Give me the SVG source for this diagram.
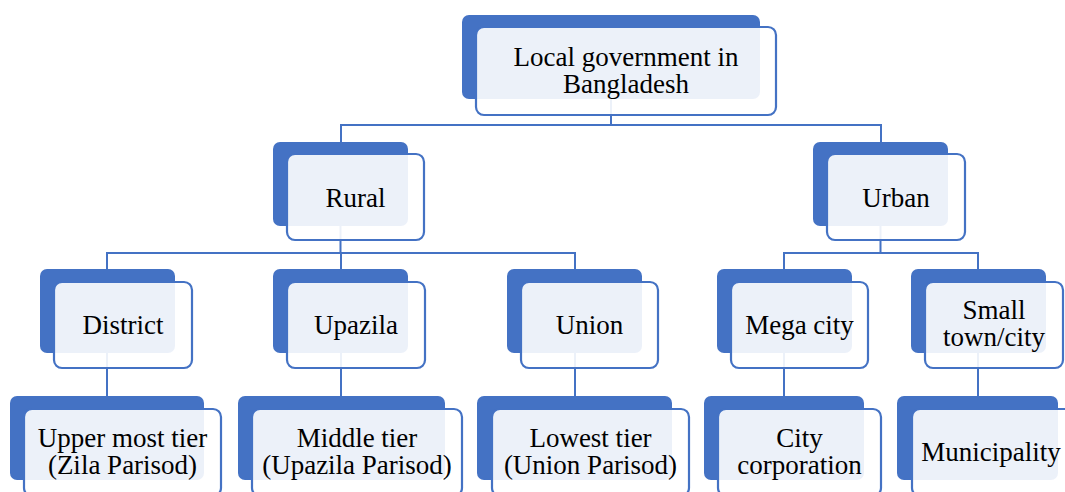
<svg xmlns="http://www.w3.org/2000/svg" width="1065" height="492" viewBox="0 0 1065 492">
<style>
.back{fill:#4472C4}
.front{fill:#ffffff;fill-opacity:0.9;stroke:#4472C4;stroke-width:2.2}
.con{fill:none;stroke:#4472C4;stroke-width:2}
</style>
<rect width="1065" height="492" fill="#ffffff"/>
<g id="connectors">
<path class="con" d="M611,99 V125 M341,142 V125 H881 V142"/>
<path class="con" d="M340.5,226 V253 M107,269 V253 H575 V269 M341,253 V269"/>
<path class="con" d="M880.5,226 V253 M784,269 V253 H978 V269"/>
<path class="con" d="M107,353 V396 M341,353 V396 M575,353 V396 M784,353 V396 M978,353 V396"/>
</g>
<g font-family="Liberation Serif, Times New Roman, serif" font-size="27" fill="#000000" text-anchor="middle">
<g id="root">
<rect class="back" x="462" y="15" width="298" height="84" rx="7"/>
<rect class="front" x="476" y="27" width="300" height="88" rx="8"/>
<text x="626" y="66" font-family="Liberation Serif">Local government in</text>
<text x="626" y="93" font-family="Liberation Serif">Bangladesh</text>
</g>
<g id="rural">
<rect class="back" x="273" y="142" width="135" height="84" rx="7"/>
<rect class="front" x="287" y="154" width="137" height="86" rx="8"/>
<text x="355.5" y="207" font-family="Liberation Serif">Rural</text>
</g>
<g id="urban">
<rect class="back" x="813" y="142" width="135" height="84" rx="7"/>
<rect class="front" x="827" y="154" width="138" height="86" rx="8"/>
<text x="896" y="207" font-family="Liberation Serif">Urban</text>
</g>
<g id="district">
<rect class="back" x="40" y="269" width="135" height="84" rx="7"/>
<rect class="front" x="54" y="282" width="138" height="86" rx="8"/>
<text x="123" y="334" font-family="Liberation Serif">District</text>
</g>
<g id="upazila">
<rect class="back" x="273" y="269" width="135" height="84" rx="7"/>
<rect class="front" x="287" y="282" width="138" height="86" rx="8"/>
<text x="356" y="334" font-family="Liberation Serif">Upazila</text>
</g>
<g id="union">
<rect class="back" x="507" y="269" width="135" height="84" rx="7"/>
<rect class="front" x="521" y="282" width="137" height="86" rx="8"/>
<text x="589.5" y="334" font-family="Liberation Serif">Union</text>
</g>
<g id="megacity">
<rect class="back" x="717" y="269" width="135" height="84" rx="7"/>
<rect class="front" x="731" y="282" width="137" height="86" rx="8"/>
<text x="799.5" y="334" font-family="Liberation Serif">Mega city</text>
</g>
<g id="smalltown">
<rect class="back" x="911" y="269" width="135" height="84" rx="7"/>
<rect class="front" x="925" y="282" width="138" height="86" rx="8"/>
<text x="994" y="319" font-family="Liberation Serif">Small</text>
<text x="994" y="346" font-family="Liberation Serif">town/city</text>
</g>
<g id="uppermost">
<rect class="back" x="10" y="396" width="194" height="84" rx="7"/>
<rect class="front" x="24" y="409" width="197" height="87" rx="8"/>
<text x="122.5" y="447" font-family="Liberation Serif">Upper most tier</text>
<text x="122.5" y="474" font-family="Liberation Serif">(Zila Parisod)</text>
</g>
<g id="middletier">
<rect class="back" x="238" y="396" width="207" height="84" rx="7"/>
<rect class="front" x="252" y="409" width="210" height="87" rx="8"/>
<text x="357" y="447" font-family="Liberation Serif">Middle tier</text>
<text x="357" y="474" font-family="Liberation Serif">(Upazila Parisod)</text>
</g>
<g id="lowesttier">
<rect class="back" x="477" y="396" width="195" height="84" rx="7"/>
<rect class="front" x="492" y="409" width="197" height="87" rx="8"/>
<text x="590.5" y="447" font-family="Liberation Serif">Lowest tier</text>
<text x="590.5" y="474" font-family="Liberation Serif">(Union Parisod)</text>
</g>
<g id="citycorp">
<rect class="back" x="704" y="396" width="160" height="84" rx="7"/>
<rect class="front" x="718" y="409" width="163" height="87" rx="8"/>
<text x="799.5" y="447" font-family="Liberation Serif">City</text>
<text x="799.5" y="474" font-family="Liberation Serif">corporation</text>
</g>
<g id="municipality">
<rect class="back" x="897" y="396" width="161" height="84" rx="7"/>
<rect class="front" x="912" y="409" width="163" height="87" rx="8"/>
<text x="991" y="461" font-family="Liberation Serif">Municipality</text>
</g>
</g>
</svg>
